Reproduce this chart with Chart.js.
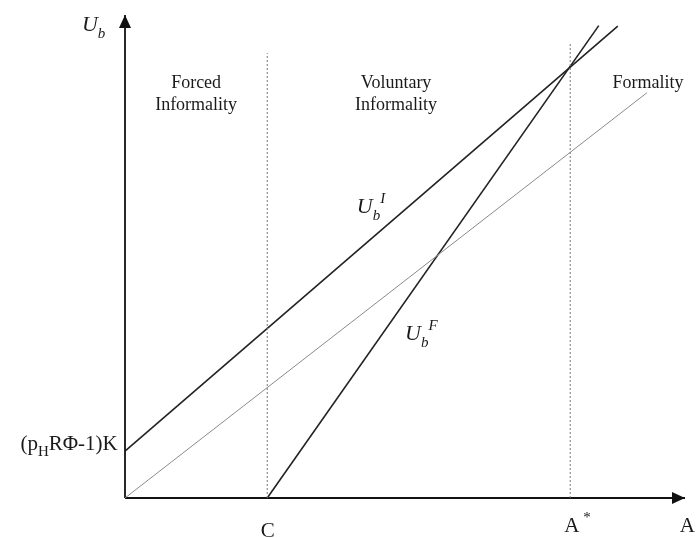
<!DOCTYPE html>
<html>
<head>
<meta charset="utf-8">
<script src="https://cdn.jsdelivr.net/npm/chart.js@4.4.1/dist/chart.umd.min.js"></script>
<style>
  html, body { margin: 0; padding: 0; background: #fff; }
  #wrap { width: 697px; height: 538px; position: relative; }
</style>
</head>
<body>
<div id="wrap"><canvas id="chart"></canvas></div>
<script>
// values, in arbitrary units (A on 0..100, U_b on 0..100)
const ubInformal = [{x: 0, y: 9.7}, {x: 88, y: 97.7}]
const ubFormal = [{x: 25.4, y: 0}, {x: 84.6, y: 97.8}]
const formalityLine = [{x: 0, y: 0}, {x: 93.2, y: 83.9}]
const cLine = [{x: 25.4, y: 0}, {x: 25.4, y: 92.1}]
const aStarLine = [{x: 79.5, y: 0}, {x: 79.5, y: 94.2}]
const xAxisLine = [{x: 0, y: 0}, {x: 100, y: 0}]
const yAxisLine = [{x: 0, y: 0}, {x: 0, y: 100}]

const serif = "'Liberation Serif', 'DejaVu Serif', serif"

// text parts: [text, kind] where kind is "", "i", "sub", "sup", "isub", "isup"
const labels = [
  {parts: [["Forced", ""]], x: 12.7, y: 84.9, align: "center", size: 18},
  {parts: [["Informality", ""]], x: 12.7, y: 80.3, align: "center", size: 18},
  {parts: [["Voluntary", ""]], x: 48.4, y: 84.9, align: "center", size: 18},
  {parts: [["Informality", ""]], x: 48.4, y: 80.3, align: "center", size: 18},
  {parts: [["Formality", ""]], x: 93.4, y: 84.9, align: "center", size: 18},
  {parts: [["U", "i"], ["b", "isub"]], x: -7.7, y: 96.7, align: "left", size: 22},
  {parts: [["U", "i"], ["b", "isub"], ["I", "isup"]], x: 41.4, y: 59.0, align: "left", size: 22},
  {parts: [["U", "i"], ["b", "isub"], ["F", "isup"]], x: 50.0, y: 32.7, align: "left", size: 22},
  {parts: [["(p", ""], ["H", "sub"], ["RΦ-1)K", ""]], x: -1.3, y: 9.9, align: "right", size: 21},
  {parts: [["C", ""]], x: 25.5, y: -8.0, align: "center", size: 21},
  {parts: [["A", ""], [" *", "sup"]], x: 80.8, y: -7.0, align: "center", size: 21},
  {parts: [["A", ""]], x: 100.4, y: -7.0, align: "center", size: 21},
]

function partFont(kind, size) {
  const small = kind.includes("sub") || kind.includes("sup")
  const italic = kind.startsWith("i")
  return `${italic ? "italic " : ""}${small ? Math.round(size * 0.7) : size}px ${serif}`
}

const decorations = {
  id: "decorations",
  afterDraw(chart) {
    const {ctx, scales: {x, y}} = chart
    ctx.save()
    ctx.fillStyle = "#111"
    // arrow heads on both axes
    const ox = x.getPixelForValue(0), oy = y.getPixelForValue(0)
    const tx = x.getPixelForValue(100), ty = y.getPixelForValue(100)
    ctx.beginPath()
    ctx.moveTo(ox, ty)
    ctx.lineTo(ox - 6, ty + 13)
    ctx.lineTo(ox + 6, ty + 13)
    ctx.closePath()
    ctx.fill()
    ctx.beginPath()
    ctx.moveTo(tx, oy)
    ctx.lineTo(tx - 13, oy - 6)
    ctx.lineTo(tx - 13, oy + 6)
    ctx.closePath()
    ctx.fill()
    // text labels
    ctx.textBaseline = "alphabetic"
    ctx.textAlign = "left"
    ctx.fillStyle = "#1a1a1a"
    labels.forEach(label => {
      const widths = label.parts.map(([text, kind]) => {
        ctx.font = partFont(kind, label.size)
        return ctx.measureText(text).width
      })
      const total = widths.reduce((a, b) => a + b, 0)
      let px = x.getPixelForValue(label.x)
      const py = y.getPixelForValue(label.y)
      if (label.align === "center") px -= total / 2
      if (label.align === "right") px -= total
      label.parts.forEach(([text, kind], i) => {
        ctx.font = partFont(kind, label.size)
        let dy = 0
        if (kind.includes("sub")) dy = label.size * 0.3
        if (kind.includes("sup")) dy = -label.size * 0.45
        ctx.fillText(text, px, py + dy)
        px += widths[i]
      })
    })
    ctx.restore()
  }
}

function line(data, color, width, dash) {
  return {
    data,
    borderColor: color,
    borderWidth: width,
    borderDash: dash || [],
    showLine: true,
    pointRadius: 0,
    fill: false,
  }
}

new Chart(document.getElementById("chart"), {
  type: "scatter",
  data: {
    datasets: [
      line(cLine, "#777", 1, [2, 2]),
      line(aStarLine, "#777", 1, [2, 2]),
      line(formalityLine, "#8a8a8a", 1),
      line(ubInformal, "#222", 1.6),
      line(ubFormal, "#222", 1.6),
      line(xAxisLine, "#111", 1.8),
      line(yAxisLine, "#111", 1.8),
    ]
  },
  options: {
    responsive: true,
    maintainAspectRatio: false,
    animation: false,
    layout: {padding: {left: 125, right: 12, top: 15, bottom: 40}},
    plugins: {legend: {display: false}, tooltip: {enabled: false}},
    scales: {
      x: {type: "linear", min: 0, max: 100, display: false},
      y: {type: "linear", min: 0, max: 100, display: false},
    },
    elements: {line: {tension: 0}},
    clip: false,
  },
  plugins: [decorations]
})
</script>
</body>
</html>
